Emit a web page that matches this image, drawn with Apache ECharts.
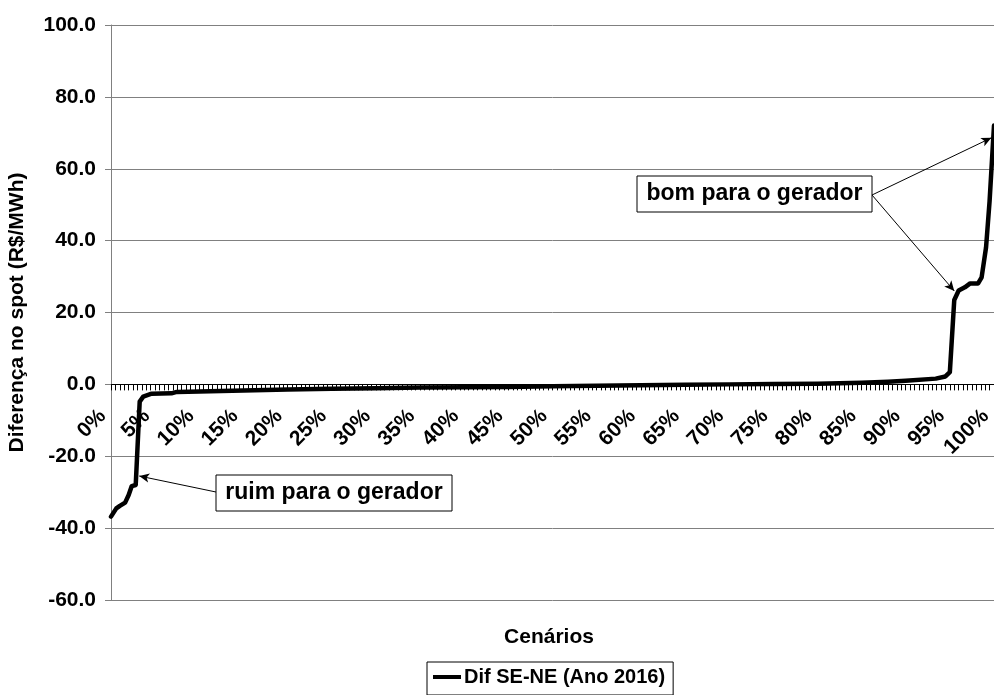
<!DOCTYPE html>
<html>
<head>
<meta charset="utf-8">
<script src="https://cdn.jsdelivr.net/npm/echarts@6/dist/echarts.min.js"></script>
<style>
  html, body { margin: 0; padding: 0; background: #ffffff; }
  #chart { width: 994px; height: 695px; }
</style>
</head>
<body>
<div id="chart"></div>
<script>
// Scenario percentiles (x, %) and SE-NE spot price difference (R$/MWh)
const scenarioPct = [0, 0.6, 1.0, 1.6, 2.0, 2.35, 2.8, 3.25, 3.65, 4.6, 6.85, 7.45, 10, 15, 20, 25, 30, 35, 40, 45, 50, 55, 60, 65, 70, 75, 80, 85, 88, 90, 93.4, 94.5, 95.0, 95.5, 96.0, 96.7, 97.3, 98.2, 98.6, 99.1, 99.5, 100];
const diffSENE = [-36.8, -34.5, -33.8, -32.9, -30.8, -28.3, -28.0, -4.8, -3.4, -2.6, -2.5, -2.1, -2.0, -1.7, -1.45, -1.25, -1.05, -0.9, -0.8, -0.7, -0.55, -0.4, -0.25, -0.1, 0.0, 0.1, 0.2, 0.45, 0.75, 1.0, 1.6, 2.2, 3.4, 23.5, 26.1, 27.0, 28.1, 28.1, 29.8, 38.1, 51.0, 72.0];

const yMin = -60, yMax = 100, yStep = 20;
const xMin = 0, xMax = 100, xStep = 5;

const seriesName = 'Dif SE-NE (Ano 2016)';
const yTitle = 'Diferença no spot (R$/MWh)';
const xTitle = 'Cenários';
const noteBad = 'ruim para o gerador';
const noteGood = 'bom para o gerador';

// arrow targets on the curve, in data units
const badTarget = [3.2, -25.5];
const goodTargets = [[99.7, 68.6], [95.5, 26.0]];

const FONT = '"Liberation Sans", Arial, sans-serif';

// plot box in pixels
const gridTop = 25, gridBottom = 95, gridLeft = 111, chartH = 695;
const gridH = chartH - gridTop - gridBottom;
// the horizontal axis crosses the value axis at zero
const zeroOffset = -((0 - yMin) / (yMax - yMin)) * gridH;

const chart = echarts.init(document.getElementById('chart'));

const option = {
  animation: false,
  backgroundColor: '#ffffff',
  grid: { left: gridLeft, right: 0, top: gridTop, bottom: gridBottom, containLabel: false, outerBoundsMode: 'none' },
  xAxis: {
    type: 'value',
    position: 'bottom',
    offset: zeroOffset,
    min: xMin, max: xMax, interval: xStep,
    axisLine: { onZero: false, lineStyle: { color: '#000', width: 1 } },
    axisTick: { show: true, length: 6, lineStyle: { color: '#000', width: 1 } },
    minorTick: { show: true, splitNumber: 10, length: 6, lineStyle: { color: '#000', width: 1 } },
    splitLine: { show: false },
    axisLabel: {
      rotate: 45,
      margin: 20,
      padding: [0, 12, 0, 0],
      formatter: v => v + '%',
      fontFamily: FONT, fontWeight: 'bold', fontSize: 21, color: '#000',
      showMinLabel: true, showMaxLabel: true, hideOverlap: false
    }
  },
  yAxis: {
    type: 'value',
    min: yMin, max: yMax, interval: yStep,
    name: yTitle,
    nameLocation: 'middle',
    nameGap: 83,
    nameRotate: 90,
    nameTextStyle: { fontFamily: FONT, fontWeight: 'bold', fontSize: 21, color: '#000' },
    axisLine: { show: true, lineStyle: { color: '#808080', width: 1 } },
    axisTick: { show: true, length: 6, lineStyle: { color: '#808080', width: 1 } },
    splitLine: { show: true, lineStyle: { color: '#808080', width: 1 } },
    axisLabel: {
      margin: 15,
      formatter: v => v.toFixed(1),
      fontFamily: FONT, fontWeight: 'bold', fontSize: 21, color: '#000'
    }
  },
  legend: {
    left: 427, top: 662,
    orient: 'horizontal',
    borderColor: '#000', borderWidth: 1,
    padding: [5, 8, 8, 6],
    itemWidth: 28, itemHeight: 4, itemGap: 4,
    textStyle: { fontFamily: FONT, fontWeight: 'bold', fontSize: 20, color: '#000', padding: [0, 0, 0, -2] },
    data: [{ name: seriesName, icon: 'rect' }]
  },
  series: [{
    name: seriesName,
    type: 'line',
    data: scenarioPct.map((p, i) => [p, diffSENE[i]]),
    symbol: 'none',
    smooth: false,
    clip: false,
    z: 5,
    lineStyle: { color: '#000', width: 4.5, join: 'round', cap: 'round' },
    itemStyle: { color: '#000' },
    markLine: {
      silent: true,
      symbol: ['none', 'arrow'],
      symbolSize: [7, 10],
      label: { show: false },
      lineStyle: { color: '#000', width: 1, type: 'solid' },
      data: [
        [{ x: 216, y: 492 }, { coord: badTarget }],
        [{ x: 872, y: 195 }, { coord: goodTargets[0] }],
        [{ x: 872, y: 195 }, { coord: goodTargets[1] }]
      ]
    }
  }],
  graphic: [
    {
      type: 'rect', z: 20,
      shape: { x: 637, y: 176, width: 235, height: 36 },
      style: { fill: '#fff', stroke: '#000', lineWidth: 1 }
    },
    {
      type: 'text', z: 21,
      x: 754.5, y: 194,
      style: { text: noteGood, font: 'bold 23px ' + FONT, fill: '#000', textAlign: 'center', textVerticalAlign: 'middle' }
    },
    {
      type: 'rect', z: 20,
      shape: { x: 216, y: 475, width: 236, height: 36 },
      style: { fill: '#fff', stroke: '#000', lineWidth: 1 }
    },
    {
      type: 'text', z: 21,
      x: 334, y: 493,
      style: { text: noteBad, font: 'bold 23px ' + FONT, fill: '#000', textAlign: 'center', textVerticalAlign: 'middle' }
    },
    {
      type: 'text', z: 21,
      x: 549, y: 637,
      style: { text: xTitle, font: 'bold 21px ' + FONT, fill: '#000', textAlign: 'center', textVerticalAlign: 'middle' }
    }
  ]
};

chart.setOption(option);
</script>
</body>
</html>
